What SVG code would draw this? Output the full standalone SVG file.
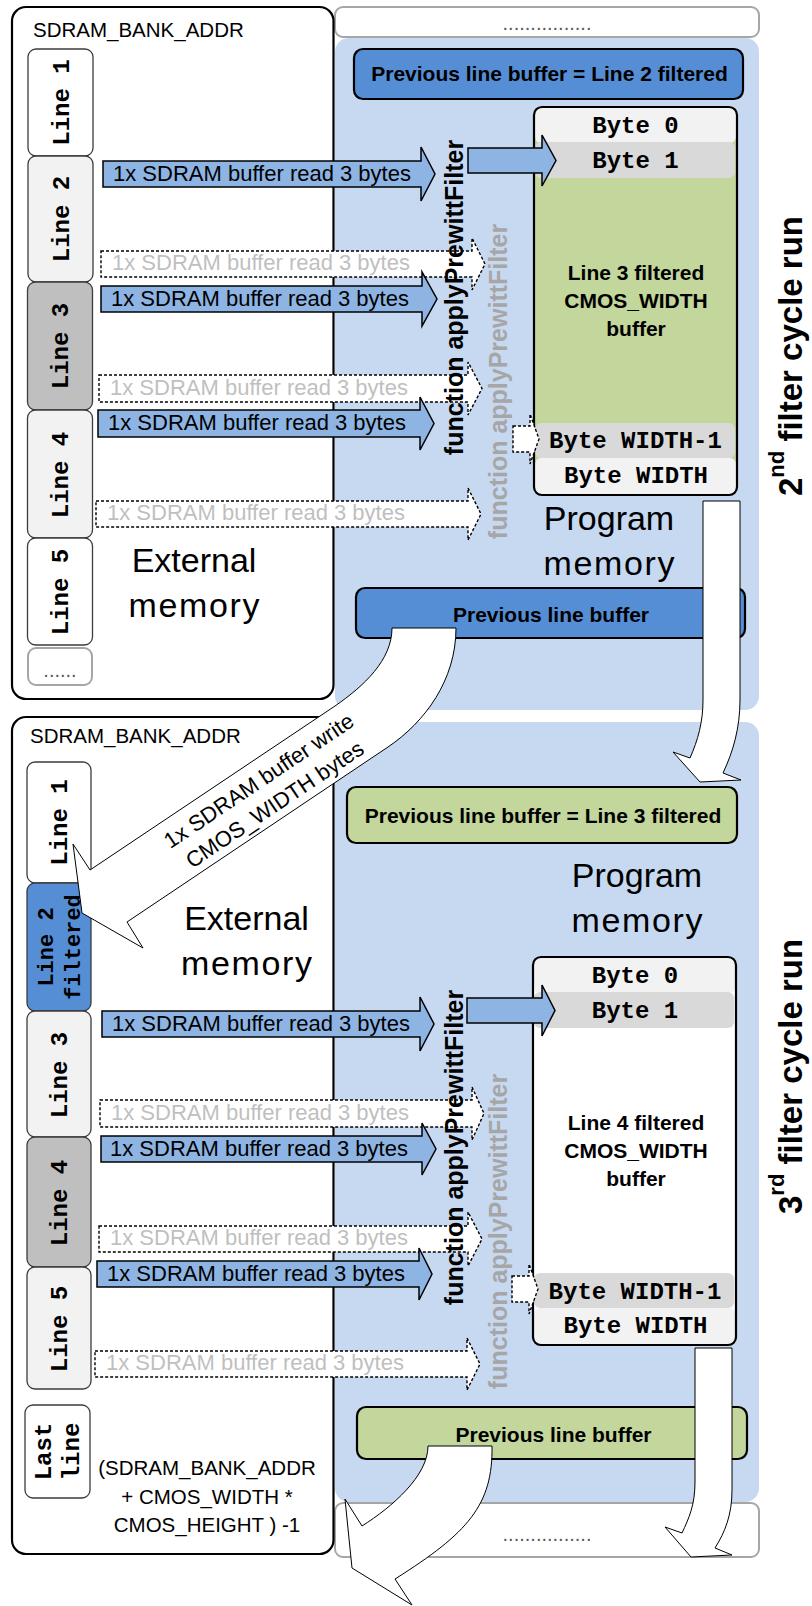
<svg xmlns="http://www.w3.org/2000/svg" width="812" height="1606" viewBox="0 0 812 1606">
  <defs>
    <style>
      .sans{font-family:"Liberation Sans",Arial,sans-serif}
      .mono{font-family:"Liberation Mono","Courier New",monospace;font-weight:bold}
      .bold{font-weight:bold}
      .frame{fill:#fff;stroke:#000;stroke-width:2.2}
      .panel{fill:#c6d9f1}
      .dotbox{fill:#fff;stroke:#a6a6a6;stroke-width:2}
      .dots{font-family:"Liberation Sans",Arial,sans-serif;font-size:20px;fill:#595959}
      .cell{stroke:#3c3c3c;stroke-width:1.3}
      .c-w{fill:#fff}
      .c-l{fill:#f2f2f2}
      .c-d{fill:#bfbfbf}
      .c-m{fill:#d9d9d9}
      .c-b{fill:#558ed5}
      .c-g{fill:#c3d69b}
      .pbuf{stroke:#000;stroke-width:2.2}
      .outline{fill:none;stroke:#000;stroke-width:2.2}
      .rd{fill:#8eb4e3;stroke:#000;stroke-width:1.5}
      .rdx{fill:#fff;stroke:#000;stroke-width:1.4;stroke-dasharray:3 2}
      .rdt{font-family:"Liberation Sans",Arial,sans-serif;font-size:22px;fill:#000}
      .ghost{fill:#bfbfbf}
      .bend{fill:#fff;stroke:#000;stroke-width:1}
      .lbl{font-size:24px;fill:#000}
      .lbl2{font-size:22px;fill:#000}
      .big{font-family:"Liberation Sans",Arial,sans-serif;font-size:34px;fill:#000}
      .hdr{font-family:"Liberation Sans",Arial,sans-serif;font-size:20.5px;fill:#000}
      .btxt{font-family:"Liberation Sans",Arial,sans-serif;font-weight:bold;font-size:21px;fill:#000}
      .fn{font-family:"Liberation Sans",Arial,sans-serif;font-weight:bold;font-size:25px;fill:#000}
      .fn.ghost{fill:#a6a6a6}
      .cyc{font-family:"Liberation Sans",Arial,sans-serif;font-weight:bold;font-size:33px;fill:#000}
    </style>
  </defs>

  <!-- program memory panels and the ellipsis boxes -->
  <g id="panels">
    <rect class="panel" x="335" y="38" width="424" height="672" rx="14"/>
    <rect class="panel" x="335" y="722" width="424" height="780" rx="14"/>
    <rect class="dotbox" x="335" y="7" width="424" height="30" rx="8"/>
    <text class="dots" x="547" y="30" text-anchor="middle">................</text>
    <rect class="dotbox" x="335" y="1503" width="424" height="54" rx="8"/>
    <text class="dots" x="547" y="1541" text-anchor="middle">................</text>
  </g>

  <!-- external memory, first cycle -->
  <g id="extmem-a">
    <rect class="frame" x="12" y="7" width="321.5" height="692" rx="14"/>
    <text class="hdr" x="33" y="37">SDRAM_BANK_ADDR</text>
    <text class="big" x="194" y="572" text-anchor="middle">External</text>
    <text class="big" x="194" y="617" text-anchor="middle" textLength="131">memory</text>
  </g>
  <g id="a-line1"><rect class="cell c-w" x="28" y="49" width="65" height="107" rx="8"/>
    <text class="mono lbl" transform="translate(69,102.5) rotate(-90)" text-anchor="middle">Line 1</text></g>
  <g id="a-line2"><rect class="cell c-l" x="28" y="156" width="65" height="126" rx="8"/>
    <text class="mono lbl" transform="translate(69,219) rotate(-90)" text-anchor="middle">Line 2</text></g>
  <g id="a-line3"><rect class="cell c-d" x="27.5" y="282" width="65" height="128" rx="8"/>
    <text class="mono lbl" transform="translate(68,346) rotate(-90)" text-anchor="middle">Line 3</text></g>
  <g id="a-line4"><rect class="cell c-l" x="27.5" y="410" width="65" height="128" rx="8"/>
    <text class="mono lbl" transform="translate(68,475) rotate(-90)" text-anchor="middle">Line 4</text></g>
  <g id="a-line5"><rect class="cell c-w" x="27.5" y="538" width="65" height="107" rx="8"/>
    <text class="mono lbl" transform="translate(68,592) rotate(-90)" text-anchor="middle">Line 5</text></g>
  <g id="a-more"><rect class="dotbox" x="28" y="648" width="64" height="37" rx="8"/>
    <text class="dots" x="60" y="677" text-anchor="middle">......</text></g>

  <!-- external memory, second cycle -->
  <g id="extmem-b">
    <rect class="frame" x="12" y="717" width="321.5" height="837" rx="14"/>
    <text class="hdr" x="30" y="743">SDRAM_BANK_ADDR</text>
    <text class="big" x="246.5" y="930" text-anchor="middle">External</text>
    <text class="big" x="246.5" y="975" text-anchor="middle" textLength="131">memory</text>
    <text class="hdr" x="207" y="1475" text-anchor="middle">(SDRAM_BANK_ADDR</text>
    <text class="hdr" x="207" y="1504" text-anchor="middle">+ CMOS_WIDTH *</text>
    <text class="hdr" x="207" y="1532" text-anchor="middle">CMOS_HEIGHT ) -1</text>
  </g>
  <g id="b-line1"><rect class="cell c-w" x="27" y="762" width="64" height="121" rx="8"/>
    <text class="mono lbl" transform="translate(67,822.5) rotate(-90)" text-anchor="middle">Line 1</text></g>
  <g id="b-line2"><rect class="cell c-b" x="27" y="883" width="64" height="128" rx="8"/>
    <text class="mono lbl2" transform="translate(53,947) rotate(-90)" text-anchor="middle">Line 2</text>
    <text class="mono lbl2" transform="translate(80,947) rotate(-90)" text-anchor="middle">filtered</text></g>
  <g id="b-line3"><rect class="cell c-l" x="27" y="1011" width="64" height="126" rx="8"/>
    <text class="mono lbl" transform="translate(67,1075) rotate(-90)" text-anchor="middle">Line 3</text></g>
  <g id="b-line4"><rect class="cell c-d" x="27" y="1137" width="64" height="130" rx="8"/>
    <text class="mono lbl" transform="translate(67,1203) rotate(-90)" text-anchor="middle">Line 4</text></g>
  <g id="b-line5"><rect class="cell c-l" x="27" y="1267" width="64" height="122" rx="8"/>
    <text class="mono lbl" transform="translate(67,1329) rotate(-90)" text-anchor="middle">Line 5</text></g>
  <g id="b-last"><rect class="cell c-w" x="25" y="1405" width="65" height="93" rx="8"/>
    <text class="mono lbl" transform="translate(51,1451.5) rotate(-90)" text-anchor="middle">Last</text>
    <text class="mono lbl" transform="translate(79,1451.5) rotate(-90)" text-anchor="middle">line</text></g>

  <!-- previous line buffers -->
  <g id="prev-a-top">
    <rect class="pbuf c-b" x="354" y="49" width="389" height="50" rx="9"/>
    <text class="btxt" x="549.5" y="81" text-anchor="middle">Previous line buffer = Line 2 filtered</text>
  </g>
  <g id="prev-a-bottom">
    <rect class="pbuf c-b" x="356" y="588" width="389" height="50" rx="9"/>
    <text class="btxt" x="551" y="622" text-anchor="middle">Previous line buffer</text>
  </g>
  <g id="prev-b-top">
    <rect class="pbuf c-g" x="347" y="787" width="390" height="56" rx="9"/>
    <text class="btxt" x="543" y="823" text-anchor="middle">Previous line buffer = Line 3 filtered</text>
  </g>
  <g id="prev-b-bottom">
    <rect class="pbuf c-g" x="357" y="1407" width="390" height="52" rx="9"/>
    <text class="btxt" x="553.5" y="1442" text-anchor="middle">Previous line buffer</text>
  </g>

  <!-- program memory labels -->
  <g id="progmem-a">
    <text class="big" x="609" y="530" text-anchor="middle">Program</text>
    <text class="big" x="609" y="575" text-anchor="middle" textLength="131">memory</text>
  </g>
  <g id="progmem-b">
    <text class="big" x="637" y="887" text-anchor="middle">Program</text>
    <text class="big" x="637" y="932" text-anchor="middle" textLength="131">memory</text>
  </g>

  <!-- filtered line buffers -->
  <g id="buf-a">
    <rect class="c-g" x="534" y="107" width="203" height="388" rx="8"/>
    <rect class="c-l" x="535" y="108" width="201" height="35" rx="6"/>
    <rect class="c-m" x="535" y="142" width="200" height="36" rx="6"/>
    <rect class="c-m" x="535" y="423" width="200" height="35" rx="6"/>
    <rect class="c-l" x="535" y="458" width="201" height="36" rx="6"/>
    <rect class="outline" x="534" y="107" width="203" height="388" rx="8"/>
    <text class="mono lbl" x="635.5" y="133" text-anchor="middle">Byte 0</text>
    <text class="mono lbl" x="635.5" y="168" text-anchor="middle">Byte 1</text>
    <text class="btxt" x="636" y="280" text-anchor="middle">Line 3 filtered</text>
    <text class="btxt" x="636" y="308" text-anchor="middle">CMOS_WIDTH</text>
    <text class="btxt" x="636" y="336" text-anchor="middle">buffer</text>
    <text class="mono lbl" x="635.5" y="448" text-anchor="middle">Byte WIDTH-1</text>
    <text class="mono lbl" x="636" y="483" text-anchor="middle">Byte WIDTH</text>
  </g>
  <g id="buf-b">
    <rect class="c-w" x="533" y="957" width="203" height="388" rx="8"/>
    <rect class="c-l" x="534" y="958" width="201" height="35" rx="6"/>
    <rect class="c-m" x="534" y="992" width="200" height="36" rx="6"/>
    <rect class="c-m" x="534" y="1273" width="200" height="35" rx="6"/>
    <rect class="c-l" x="534" y="1308" width="201" height="36" rx="6"/>
    <rect class="outline" x="533" y="957" width="203" height="388" rx="8"/>
    <text class="mono lbl" x="635" y="983" text-anchor="middle">Byte 0</text>
    <text class="mono lbl" x="635" y="1018" text-anchor="middle">Byte 1</text>
    <text class="btxt" x="636" y="1130" text-anchor="middle">Line 4 filtered</text>
    <text class="btxt" x="636" y="1158" text-anchor="middle">CMOS_WIDTH</text>
    <text class="btxt" x="636" y="1186" text-anchor="middle">buffer</text>
    <text class="mono lbl" x="635" y="1299" text-anchor="middle">Byte WIDTH-1</text>
    <text class="mono lbl" x="635.5" y="1333" text-anchor="middle">Byte WIDTH</text>
  </g>

  <!-- connectors -->
  <g id="connectors">
    <!-- skipped reads (dashed) -->
    <polygon class="rdx" points="101,251 472,251 472,238 485,264 472,290 472,277 101,277"/>
    <text class="rdt ghost" x="112" y="270">1x SDRAM buffer read 3 bytes</text>
    <polygon class="rdx" points="99,375 468,375 468,362 482,388.5 468,415 468,402 99,402"/>
    <text class="rdt ghost" x="110" y="395">1x SDRAM buffer read 3 bytes</text>
    <polygon class="rdx" points="96,501 468,501 468,488 481,514 468,540 468,527 96,527"/>
    <text class="rdt ghost" x="107" y="520">1x SDRAM buffer read 3 bytes</text>

    <polygon class="rdx" points="100,1100 472,1100 472,1087 484,1113.5 472,1140 472,1127 100,1127"/>
    <text class="rdt ghost" x="111" y="1120">1x SDRAM buffer read 3 bytes</text>
    <polygon class="rdx" points="99,1226 468,1226 468,1212 482,1239 468,1266 468,1252 99,1252"/>
    <text class="rdt ghost" x="110" y="1245">1x SDRAM buffer read 3 bytes</text>
    <polygon class="rdx" points="95,1351 467,1351 467,1338 480,1364 467,1390 467,1377 95,1377"/>
    <text class="rdt ghost" x="106" y="1370">1x SDRAM buffer read 3 bytes</text>

    <!-- active reads -->
    <polygon class="rd" points="103,161 421,161 421,147 435,174 421,201 421,187 103,187"/>
    <text class="rdt" x="113" y="180.5">1x SDRAM buffer read 3 bytes</text>
    <polygon class="rd" points="101,286 422,286 422,272 437,299 422,326 422,312 101,312"/>
    <text class="rdt" x="111" y="305.5">1x SDRAM buffer read 3 bytes</text>
    <polygon class="rd" points="98,410 420,410 420,397 434,423.5 420,450 420,437 98,437"/>
    <text class="rdt" x="108" y="430">1x SDRAM buffer read 3 bytes</text>

    <polygon class="rd" points="102,1011 420,1011 420,997 434,1024 420,1051 420,1037 102,1037"/>
    <text class="rdt" x="112" y="1030.5">1x SDRAM buffer read 3 bytes</text>
    <polygon class="rd" points="101,1136 422,1136 422,1123 436,1149 422,1175 422,1162 101,1162"/>
    <text class="rdt" x="110" y="1155.5">1x SDRAM buffer read 3 bytes</text>
    <polygon class="rd" points="97,1261 419,1261 419,1248 432,1274 419,1300 419,1287 97,1287"/>
    <text class="rdt" x="107" y="1280.5">1x SDRAM buffer read 3 bytes</text>

    <!-- filter output into the line buffers -->
    <polygon class="rd" points="468,148 542,148 542,135 556,160.5 542,186 542,173 468,173"/>
    <polygon class="rdx" points="513,426 530,426 530,414 539,439 530,464 530,452 513,452"/>
    <polygon class="rd" points="467,998 542,998 542,985 555,1010.5 542,1036 542,1023 467,1023"/>
    <polygon class="rdx" points="512,1276 529,1276 529,1264 538,1289 529,1314 529,1302 512,1302"/>
  </g>

  <!-- filter function labels -->
  <g id="fn-a">
    <text class="fn ghost" transform="translate(507,381.5) rotate(-90)" text-anchor="middle">function applyPrewittFilter</text>
    <text class="fn" transform="translate(463,297.5) rotate(-90)" text-anchor="middle">function applyPrewittFilter</text>
  </g>
  <g id="fn-b">
    <text class="fn ghost" transform="translate(507,1231.5) rotate(-90)" text-anchor="middle">function applyPrewittFilter</text>
    <text class="fn" transform="translate(463,1147.5) rotate(-90)" text-anchor="middle">function applyPrewittFilter</text>
  </g>

  <!-- cycle captions -->
  <g id="cycle-2">
    <text class="cyc" transform="translate(802,496) rotate(-90)">2<tspan font-size="22" dy="-18">nd</tspan><tspan dy="18"> filter cycle run</tspan></text>
  </g>
  <g id="cycle-3">
    <text class="cyc" transform="translate(802,1214) rotate(-90)">3<tspan font-size="22" dy="-18">rd</tspan><tspan dy="18"> filter cycle run</tspan></text>
  </g>

  <!-- curved transfer arrows -->
  <g id="transfers">
    <path class="bend" d="M703,501 L740,501 L740,700 C740,728 733,752 723,773 L741,780 L700,782 L673,752 L690,758 C698,740 703,722 703,700 Z"/>
    <path class="bend" d="M695,1348 L732,1348 L732,1490 C732,1515 725,1532 715,1548 L732,1555 L691,1557 L665,1527 L682,1533 C689,1518 695,1505 695,1482 Z"/>
    <path class="bend" d="M392,628 L456,628 C456,680 425,722 388,747 L127,922 L143,948 L82,913 L73,844 L90,870 L335,706 C364,686 392,660 392,628 Z"/>
    <path class="bend" d="M428,1446 L492,1446 C493,1505 468,1533 395,1579 L412,1605 L352,1568 L345,1499 L362,1526 C392,1507 428,1476 428,1446 Z"/>
    <g transform="translate(263,787) rotate(-33.9)">
      <text class="rdt" x="0" y="0" text-anchor="middle">1x SDRAM buffer write</text>
      <text class="rdt" x="0" y="28.5" text-anchor="middle">CMOS_WIDTH bytes</text>
    </g>
  </g>
</svg>
